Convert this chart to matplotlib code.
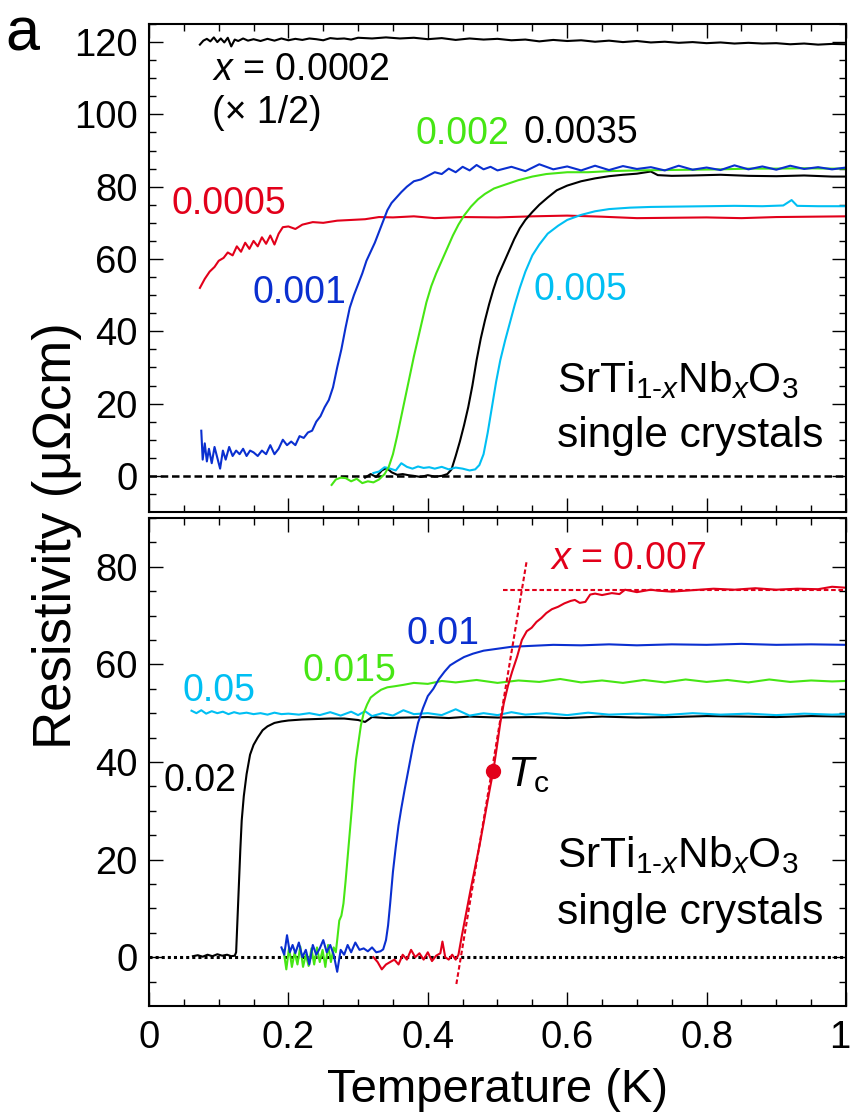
import matplotlib
matplotlib.use('Agg')
import matplotlib.pyplot as plt

plt.rcParams['font.family'] = ['Liberation Sans', 'DejaVu Sans']
plt.rcParams['mathtext.fontset'] = 'custom'
plt.rcParams['mathtext.rm'] = 'Liberation Sans'
plt.rcParams['mathtext.it'] = 'Liberation Sans:italic'

RED = '#e2001a'
BLUE = '#0a2fd0'
GREEN = '#46e614'
CYAN = '#00bff3'

# ---- top panel data (T in K, rho in uOhm cm) ----
t_0002 = [0.073, 0.078, 0.083, 0.088, 0.093, 0.098, 0.103, 0.108, 0.113, 0.118,
          0.123, 0.128, 0.135, 0.142, 0.15, 0.16, 0.17, 0.18, 0.19, 0.2,
          0.21, 0.22, 0.23, 0.24, 0.25, 0.26, 0.27, 0.28, 0.29, 0.30,
          0.32, 0.34, 0.36, 0.38, 0.40, 0.42, 0.44, 0.46, 0.48, 0.50,
          0.52, 0.54, 0.56, 0.58, 0.60, 0.62, 0.64, 0.66, 0.68, 0.70,
          0.72, 0.74, 0.76, 0.78, 0.80, 0.82, 0.84, 0.86, 0.88, 0.90,
          0.92, 0.94, 0.96, 0.98, 1.0]
r_0002 = [119.3, 120.4, 120.9, 120.2, 121.3, 120.0, 121.0, 119.9, 121.2, 118.8,
          120.7, 120.3, 121.0, 120.4, 120.8, 120.3, 120.9, 120.4, 121.0, 120.5,
          120.9, 120.6, 121.0, 120.8, 120.5, 121.1, 120.9, 121.0, 120.7, 121.2,
          121.0, 121.3, 121.0, 121.2, 120.8, 121.1, 120.6, 121.0, 120.7, 120.9,
          120.5, 120.7, 120.2, 120.6, 120.3, 120.5, 120.1, 120.4, 120.0, 120.3,
          119.9, 120.1, 119.8, 120.0, 119.7, 119.9, 119.6, 119.8, 119.6, 119.7,
          119.4, 119.6, 119.3, 119.5, 119.4]

t_0005 = [0.073, 0.080, 0.087, 0.094, 0.100, 0.107, 0.113, 0.120, 0.126, 0.132,
          0.138, 0.144, 0.150, 0.156, 0.162, 0.168, 0.174, 0.180, 0.186, 0.192,
          0.200, 0.210, 0.220, 0.235, 0.25, 0.27, 0.29, 0.31, 0.33, 0.35,
          0.38, 0.41, 0.45, 0.50, 0.55, 0.60, 0.65, 0.70, 0.75, 0.80,
          0.85, 0.90, 0.95, 1.0]
r_0005 = [52.0, 54.5, 56.5, 57.8, 59.5, 60.3, 61.8, 61.0, 63.5, 62.0,
          64.5, 62.8, 65.0, 63.5, 66.0, 64.2, 66.5, 64.0, 67.0, 68.8,
          69.0, 68.3, 69.5, 70.2, 70.0, 70.6, 70.8, 71.0, 71.6, 71.5,
          71.8, 71.3, 71.6, 71.5, 71.8, 72.0, 71.7, 71.3, 71.4, 71.5,
          71.3, 71.6, 71.7, 71.8]

t_001 = [0.075, 0.077, 0.080, 0.083, 0.086, 0.090, 0.094, 0.098, 0.102, 0.106,
         0.110, 0.115, 0.120, 0.125, 0.130, 0.135, 0.140, 0.145, 0.150, 0.156,
         0.162, 0.168, 0.174, 0.180, 0.186, 0.192, 0.198, 0.204, 0.210, 0.216,
         0.222, 0.228, 0.234, 0.240, 0.246, 0.252, 0.258, 0.264, 0.270, 0.276,
         0.282, 0.288, 0.294, 0.300, 0.306, 0.312, 0.318, 0.324, 0.330, 0.336,
         0.342, 0.348, 0.355, 0.362, 0.370, 0.380, 0.390, 0.400, 0.41, 0.42,
         0.43, 0.44, 0.45, 0.46, 0.47, 0.48, 0.49, 0.50, 0.52, 0.54,
         0.56, 0.58, 0.60, 0.62, 0.64, 0.66, 0.68, 0.70, 0.72, 0.74,
         0.76, 0.78, 0.80, 0.82, 0.84, 0.86, 0.88, 0.90, 0.92, 0.94,
         0.96, 0.98, 1.0]
r_001 = [12.5, 4.5, 9.0, 4.0, 7.5, 3.5, 8.0, 5.0, 2.0, 7.0,
         4.5, 8.0, 5.5, 7.0, 6.0, 7.5, 5.5, 7.0, 6.5, 5.5,
         7.0, 6.0, 8.5, 6.0, 7.5, 10.0, 8.5, 9.5, 8.5, 11.0,
         10.5, 12.0, 12.5, 15.0, 16.5, 19.0, 21.0, 24.5, 30.0, 35.0,
         41.0, 46.5, 50.0, 53.0, 56.0, 59.5, 62.0, 64.5, 67.5, 70.5,
         73.5, 75.5, 77.0, 78.5, 80.0, 81.5, 82.0, 83.0, 84.0, 83.5,
         85.0, 84.0, 85.5, 84.5, 86.0, 84.8, 85.5, 84.5, 85.5, 84.3,
         86.2, 84.8, 85.6, 84.5, 85.8, 84.6, 85.7, 84.9, 85.4, 84.5,
         85.8, 84.7, 85.3, 84.6, 85.9, 84.8, 85.6, 84.7, 85.8, 84.9,
         85.4, 84.8, 85.3]

t_002 = [0.262, 0.268, 0.275, 0.282, 0.290, 0.298, 0.306, 0.314, 0.322, 0.330,
         0.338, 0.344, 0.350, 0.356, 0.362, 0.368, 0.374, 0.380, 0.386, 0.392,
         0.398, 0.405, 0.412, 0.420, 0.428, 0.436, 0.444, 0.452, 0.462, 0.472,
         0.482, 0.495, 0.51, 0.53, 0.55, 0.57, 0.60, 0.63, 0.66, 0.70,
         0.74, 0.78, 0.82, 0.86, 0.90, 0.94, 0.98, 1.0]
r_002 = [-2.5, -1.0, -0.5, -0.6, -1.5, -0.8, -2.0, -1.5, -1.8, -1.0,
         0.5, 2.5, 6.0, 11.0, 16.5, 22.0, 27.5, 33.0, 38.0, 43.0,
         48.0, 52.5, 56.0, 59.5, 63.0, 66.5, 69.5, 72.0, 74.5, 76.5,
         78.0, 79.5, 80.5, 81.8, 82.8, 83.5, 84.0, 84.0, 84.3, 84.5,
         84.6, 84.7, 84.8, 85.0, 85.0, 85.1, 85.0, 85.0]

t_0035 = [0.310, 0.318, 0.326, 0.334, 0.341, 0.348, 0.356, 0.364, 0.372, 0.380,
          0.390, 0.400, 0.410, 0.420, 0.428, 0.434, 0.440, 0.446, 0.452, 0.458,
          0.464, 0.470, 0.476, 0.482, 0.488, 0.494, 0.500, 0.508, 0.516, 0.524,
          0.532, 0.540, 0.550, 0.560, 0.572, 0.585, 0.60, 0.62, 0.64, 0.66,
          0.68, 0.70, 0.72, 0.73, 0.75, 0.78, 0.82, 0.86, 0.90, 0.94, 0.98, 1.0]
r_0035 = [-0.5, 0.5, -0.3, 1.5, 2.2, 1.0, 0.3, 0.5, 0.2, 0.0,
          -0.3, 0.2, -0.2, 0.0, 0.5, 1.8, 5.5, 9.5, 14.0, 19.0,
          25.0, 32.0, 38.0, 43.0, 47.5, 51.5, 55.0, 58.5, 62.0, 65.5,
          68.5, 70.8, 73.0, 75.0, 77.0, 79.0, 80.3, 81.5, 82.3, 82.9,
          83.3, 83.6, 84.2, 83.2, 83.0, 83.1, 83.3, 83.0, 82.9, 83.1, 82.8, 82.8]

t_005 = [0.322, 0.330, 0.338, 0.346, 0.354, 0.362, 0.370, 0.378, 0.386, 0.394,
         0.402, 0.410, 0.420, 0.430, 0.440, 0.450, 0.460, 0.468, 0.474, 0.480,
         0.486, 0.492, 0.498, 0.504, 0.511, 0.518, 0.525, 0.532, 0.540, 0.550,
         0.560, 0.572, 0.587, 0.60, 0.62, 0.64, 0.66, 0.69, 0.72, 0.76,
         0.80, 0.84, 0.88, 0.91, 0.922, 0.93, 0.96, 1.0]
r_005 = [0.8, 1.2, 2.4, 2.0, 1.5, 3.5, 2.5, 2.0, 2.6, 2.2,
         2.4, 2.0, 2.5, 1.8, 2.3, 2.0, 1.5, 1.8, 3.0, 6.0,
         12.0, 19.0, 26.0, 32.0, 37.5, 42.5, 47.5, 52.0, 56.5, 61.0,
         64.0, 67.0, 69.2, 70.8, 72.2, 73.2, 73.8, 74.2, 74.4, 74.5,
         74.6, 74.7, 74.6, 74.8, 76.3, 74.7, 74.6, 74.6]

# ---- bottom panel data ----
t_02 = [0.063, 0.070, 0.077, 0.084, 0.091, 0.098, 0.105, 0.112, 0.118, 0.123,
        0.125, 0.127, 0.129, 0.131, 0.133, 0.136, 0.140, 0.145, 0.150, 0.156,
        0.163, 0.170, 0.180, 0.190, 0.200, 0.22, 0.24, 0.26, 0.28, 0.30,
        0.31, 0.32, 0.34, 0.37, 0.40, 0.43, 0.46, 0.50, 0.55, 0.60,
        0.65, 0.70, 0.75, 0.80, 0.85, 0.90, 0.95, 1.0]
r_02 = [0.2, 0.4, 0.1, 0.5, 0.2, 0.6, 0.3, 0.5, 0.2, 0.3,
        1.0, 8.0, 15.0, 22.0, 28.0, 33.0, 37.5, 41.5, 43.5, 45.0,
        46.5, 47.3, 48.0, 48.3, 48.5, 48.7, 48.8, 48.9, 48.9, 48.6,
        48.2, 49.2, 49.0, 49.1, 49.2, 49.0, 49.3, 49.1, 49.2, 49.0,
        49.3, 49.1, 49.2, 49.4, 49.3, 49.2, 49.4, 49.3]

t_05 = [0.061, 0.068, 0.075, 0.082, 0.090, 0.098, 0.106, 0.114, 0.122, 0.130,
        0.140, 0.150, 0.160, 0.170, 0.180, 0.190, 0.200, 0.215, 0.230, 0.245,
        0.26, 0.275, 0.29, 0.30, 0.31, 0.32, 0.335, 0.35, 0.365, 0.38,
        0.40, 0.42, 0.44, 0.46, 0.48, 0.50, 0.52, 0.54, 0.57, 0.60,
        0.63, 0.66, 0.70, 0.74, 0.78, 0.82, 0.86, 0.90, 0.94, 0.98, 1.0]
r_05 = [50.5, 50.0, 50.6, 49.9, 50.4, 50.0, 50.3, 49.8, 50.2, 49.9,
        50.1, 49.8, 50.0, 49.7, 50.1, 49.8, 49.9, 49.7, 50.0, 49.6,
        50.2, 49.5, 50.3, 49.6, 50.4, 49.4, 50.0, 49.5, 50.6, 49.8,
        50.0, 49.6, 50.8, 49.5, 50.0, 49.6, 50.2, 49.7, 50.0, 49.6,
        50.1, 49.7, 49.9, 49.6, 50.0, 49.7, 49.9, 49.6, 49.9, 49.7, 49.8]

t_015 = [0.193, 0.197, 0.201, 0.205, 0.209, 0.213, 0.217, 0.221, 0.225, 0.229,
         0.233, 0.237, 0.241, 0.245, 0.249, 0.253, 0.257, 0.261, 0.265, 0.268,
         0.270, 0.273, 0.276, 0.279, 0.282, 0.285, 0.288, 0.291, 0.294, 0.297,
         0.300, 0.304, 0.308, 0.313, 0.318, 0.325, 0.333, 0.342, 0.352, 0.365,
         0.38, 0.40, 0.42, 0.44, 0.47, 0.50, 0.53, 0.56, 0.59, 0.62,
         0.65, 0.68, 0.71, 0.74, 0.77, 0.80, 0.83, 0.86, 0.89, 0.92,
         0.95, 0.98, 1.0]
r_015 = [1.5, -2.5, 2.0, -2.0, 1.0, -1.5, 2.2, -2.0, 0.5, -1.8,
         1.8, -1.5, 2.0, -1.0, 1.5, -2.0, 2.5, -1.0, 2.0, 1.0,
         3.5, 7.5, 8.5, 11.0, 15.5, 20.5, 25.5, 30.5, 36.0, 40.5,
         43.5, 47.5, 50.0, 51.8, 53.2, 54.0, 54.8, 55.3, 55.5, 55.8,
         56.2, 56.0, 56.6, 56.3, 56.8, 56.2, 56.7, 56.4, 57.0, 56.3,
         56.7, 56.2, 56.8, 56.3, 56.9, 56.4, 56.8, 56.3, 56.9, 56.4,
         56.7, 56.5, 56.6]

t_01 = [0.190, 0.194, 0.198, 0.202, 0.206, 0.210, 0.215, 0.220, 0.225, 0.230,
        0.235, 0.240, 0.245, 0.250, 0.255, 0.260, 0.265, 0.270, 0.275, 0.280,
        0.285, 0.290, 0.296, 0.302, 0.308, 0.314, 0.320, 0.326, 0.332, 0.336,
        0.340, 0.343, 0.346, 0.350, 0.354, 0.358, 0.362, 0.367, 0.373, 0.379,
        0.386, 0.393, 0.400, 0.408, 0.416, 0.424, 0.432, 0.441, 0.452, 0.465,
        0.48, 0.50, 0.52, 0.55, 0.58, 0.62, 0.66, 0.70, 0.75, 0.80,
        0.85, 0.90, 0.95, 1.0]
r_01 = [2.0, 0.5, 4.5, 1.0, 2.5, 0.8, 3.0, 0.0, 1.5, -1.5,
        2.5, 0.5, 1.8, 3.5, 1.0, 2.5, 0.5, -3.0, 1.5, 0.5,
        2.5, 1.0, 3.0, 1.5, 1.8, 1.2, 2.0, 1.0, 1.2, 1.6,
        3.5, 6.5, 11.0, 17.5, 22.5, 27.0, 30.5, 34.5, 39.0, 43.5,
        48.0, 51.0, 53.5, 55.0, 57.0, 58.5, 59.8, 60.6, 61.5, 62.2,
        62.8, 63.2, 63.6, 63.8, 64.0, 63.9, 64.1, 63.9, 64.1, 64.0,
        64.2, 64.0, 64.1, 64.0]

t_007 = [0.322, 0.328, 0.334, 0.340, 0.346, 0.352, 0.358, 0.364, 0.370, 0.376,
         0.382, 0.388, 0.394, 0.400, 0.406, 0.412, 0.418, 0.421, 0.425, 0.430,
         0.435, 0.440, 0.444, 0.449, 0.455, 0.461, 0.468, 0.475, 0.482, 0.489,
         0.494, 0.499, 0.504, 0.509, 0.515, 0.521, 0.528, 0.535, 0.542, 0.549,
         0.556, 0.563, 0.570, 0.578, 0.587, 0.596, 0.605, 0.611, 0.618, 0.626,
         0.633, 0.640, 0.650, 0.664, 0.675, 0.683, 0.70, 0.72, 0.73, 0.75,
         0.78, 0.81, 0.84, 0.87, 0.90, 0.93, 0.96, 0.98, 1.0]
r_007 = [0.0, -1.0, -2.5, -1.5, -1.0, -0.5, -1.5, 0.5, -0.5, 1.5,
         0.0, 0.8, -0.5, 1.0, -0.8, 0.3, 0.8, 3.2, 0.0, -0.5,
         0.5, -0.5, 0.5, 4.5, 9.0, 13.5, 18.5, 23.5, 29.0, 34.5,
         38.2, 43.0, 48.0, 52.0, 55.6, 58.5, 61.5, 65.0, 66.8, 67.5,
         68.7, 69.5, 70.5, 71.3, 71.8, 72.5, 73.0, 73.2, 72.6, 72.8,
         74.3, 74.5, 74.2, 74.6, 74.4, 75.3, 74.8, 75.3, 75.1, 74.9,
         75.2, 75.5, 75.3, 75.6, 75.3, 75.5, 75.4, 75.9, 75.7]

# Tc construction for x = 0.007
tc_point = (0.494, 38.2)
slope_t = [0.441, 0.542]
slope_r = [-5.5, 81.3]
plateau_t = [0.508, 1.0]
plateau_r = [75.3, 75.3]

xtick_vals = [0, 0.2, 0.4, 0.6, 0.8, 1.0]
xtick_labels = ['0', '0.2', '0.4', '0.6', '0.8', '1']

fig = plt.figure(figsize=(8.51, 11.17), dpi=100)
ax1 = fig.add_axes([0.1751, 0.5416, 0.8190, 0.4369])
ax2 = fig.add_axes([0.1751, 0.0994, 0.8190, 0.4369])

lw = 1.5
ax1.plot([0, 1], [0, 0], color='black', lw=1.8, dashes=(3, 1.5))
ax1.plot(t_0002, r_0002, color='black', lw=lw)
ax1.plot(t_0005, r_0005, color=RED, lw=lw)
ax1.plot(t_0035, r_0035, color='black', lw=lw)
ax1.plot(t_005, r_005, color=CYAN, lw=lw)
ax1.plot(t_002, r_002, color=GREEN, lw=lw)
ax1.plot(t_001, r_001, color=BLUE, lw=lw)

ax2.plot([0, 1], [0, 0], color='black', lw=2.2, dashes=(1, 1))
ax2.plot(t_02, r_02, color='black', lw=lw)
ax2.plot(t_05, r_05, color=CYAN, lw=lw)
ax2.plot(t_015, r_015, color=GREEN, lw=lw)
ax2.plot(t_01, r_01, color=BLUE, lw=lw)
ax2.plot(slope_t, slope_r, color=RED, lw=1.5, dashes=(2.2, 1.3))
ax2.plot(plateau_t, plateau_r, color=RED, lw=1.5, dashes=(2.2, 1.3))
ax2.plot(t_007, r_007, color=RED, lw=lw)
ax2.plot([tc_point[0]], [tc_point[1]], 'o', color=RED, ms=10, zorder=5)

ax1.set_ylim(-10, 125)
ax2.set_ylim(-10, 90)
ax1.set_yticks([0, 20, 40, 60, 80, 100, 120])
ax2.set_yticks([0, 20, 40, 60, 80])
for ax in (ax1, ax2):
    ax.set_xlim(0, 1)
    ax.set_xticks(xtick_vals)
    ax.set_xticks([0.05 * i for i in range(1, 20) if i % 4], minor=True)
    ax.set_yticks(range(-5, int(ax.get_ylim()[1]) + 1, 5), minor=True)
    ax.tick_params(which='both', direction='in', top=True, right=True,
                   labelsize=27.5, width=1.0, pad=8)
    ax.tick_params(which='major', length=10)
    ax.tick_params(which='minor', length=5)
    for s in ax.spines.values():
        s.set_linewidth(1.5)
ax1.set_xticklabels([])
# the last label "1" is drawn separately so it stays inside the figure
ax2.set_xticklabels(xtick_labels[:-1] + [''])
ax2.tick_params(axis='x', pad=10)
ax2.annotate(xtick_labels[-1], xy=(1, 0), xycoords='axes fraction',
             xytext=(3, -10), textcoords='offset points',
             ha='right', va='top', fontsize=27.5)

fs = 27
ax1.text(0.091, 112.2, r'$x$ = 0.0002', fontsize=fs, va='center')
ax1.text(0.091, 100.3, '(× 1/2)', fontsize=fs, va='center')
ax1.text(0.032, 75.2, '0.0005', color=RED, fontsize=fs, va='center')
ax1.text(0.383, 94.5, '0.002', color=GREEN, fontsize=fs, va='center')
ax1.text(0.538, 94.8, '0.0035', color='black', fontsize=fs, va='center')
ax1.text(0.148, 50.6, '0.001', color=BLUE, fontsize=fs, va='center')
ax1.text(0.551, 51.4, '0.005', color=CYAN, fontsize=fs, va='center')

formula = r'SrTi$_{1\text{-}x}$Nb$_{x}$O$_{3}$'
ax1.text(0.585, 23.3, formula, fontsize=30.5, va='baseline')
ax1.text(0.585, 8.1, 'single crystals', fontsize=30.5, va='baseline')

ax2.text(0.048, 54.6, '0.05', color=CYAN, fontsize=fs, va='center')
ax2.text(0.22, 58.7, '0.015', color=GREEN, fontsize=fs, va='center')
ax2.text(0.37, 66.3, '0.01', color=BLUE, fontsize=fs, va='center')
ax2.text(0.575, 81.6, r'$x$ = 0.007', color=RED, fontsize=fs, va='center')
ax2.text(0.0215, 36.2, '0.02', color='black', fontsize=fs, va='center')
ax2.text(0.513, 35.1, r'$T_{\mathrm{c}}$', fontsize=31, va='baseline')
ax2.text(0.585, 18.4, formula, fontsize=30.5, va='baseline')
ax2.text(0.585, 6.8, 'single crystals', fontsize=30.5, va='baseline')

ax2.set_xlabel('Temperature (K)', fontsize=34, labelpad=9)
fig.text(57 / 851, 1 - 536 / 1117, 'Resistivity (μΩcm)', rotation=90,
         fontsize=38, ha='center', va='center')
fig.text(22 / 851, 1 - 35 / 1117, 'a', fontsize=44, ha='center', va='center')

fig.savefig('out.png', dpi=100)
